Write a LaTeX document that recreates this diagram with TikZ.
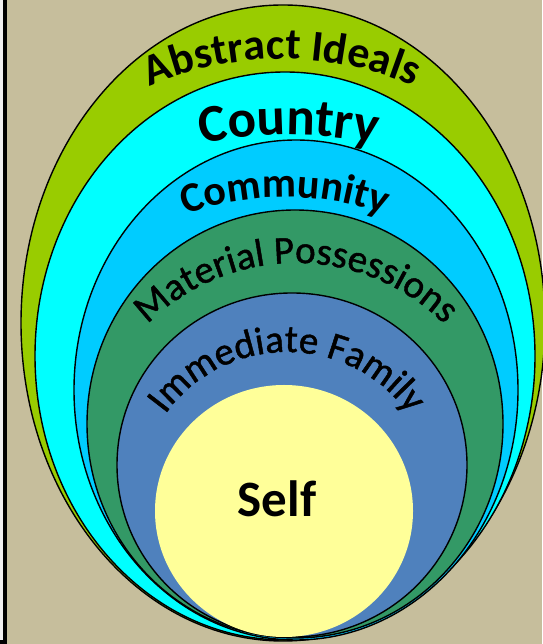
\documentclass[tikz,border=0pt]{standalone}
\usepackage{fontspec}
\setmainfont{Carlito}
\newfontfamily\medfont{Carlito}[FakeBold=1.2]
\usetikzlibrary{decorations.text}
\definecolor{bgtan}{HTML}{C6BE9C}
\definecolor{ideals}{HTML}{99CC00}
\definecolor{country}{HTML}{00FFFF}
\definecolor{community}{HTML}{00CCFF}
\definecolor{possess}{HTML}{339966}
\definecolor{family}{HTML}{4F81BD}
\definecolor{selfyel}{HTML}{FFFF99}
\begin{document}
\begin{tikzpicture}[x=1pt,y=1pt,ring/.style={draw=black,line width=1.4pt}]
  \useasboundingbox (0,0) rectangle (542,644);
  \fill[bgtan] (0,0) rectangle (542,644);
  \fill[black!6] (0,4) rectangle (3,644);
  \draw[line width=3.5pt] (5,644)--(5,2.2)--(0,2.2);
  % nested ellipses, outer to inner
  \filldraw[ring,fill=ideals] (283,321) ellipse[x radius=262,y radius=318];
  \filldraw[ring,fill=country] (285,288) ellipse[x radius=250,y radius=284];
  \filldraw[ring,fill=community] (296,254) ellipse[x radius=222,y radius=250];
  \filldraw[ring,fill=possess] (295,220) ellipse[x radius=208,y radius=214];
  \filldraw[ring,fill=family] (292,179) ellipse[x radius=175,y radius=172];
  \fill[selfyel] (284,133) ellipse[x radius=129,y radius=126];
  % curved labels
  \path[decorate,decoration={text along path,text align=center,
    text={|\bfseries\fontsize{44}{44}\selectfont|Abstract Ideals}}]
    (282,257) ++(140:328) arc[start angle=140,end angle=40,radius=328];
  \path[decorate,decoration={text along path,text align=center,
    text={|\bfseries\fontsize{53}{53}\selectfont|Country}}]
    (289,59) ++(120:450) arc[start angle=120,end angle=60,radius=450];
  \path[decorate,decoration={text along path,text align=center,
    text={|\bfseries\fontsize{42}{42}\selectfont|Community}}]
    (285,157) ++(140:290) arc[start angle=140,end angle=40,radius=290];
  \path[decorate,decoration={text along path,text align=center,
    text={|\medfont\fontsize{39}{39}\selectfont|Material Possessions}}]
    (296,171) ++(165:210) arc[start angle=165,end angle=15,radius=210];
  \path[decorate,decoration={text along path,text align=center,
    text={|\medfont\fontsize{39}{39}\selectfont|Immediate Family}}]
    (287,142) ++(175:150) arc[start angle=175,end angle=5,radius=150];
  \node[anchor=base,font=\bfseries\fontsize{51}{51}\selectfont] (self) at (277,127) {Self};
\end{tikzpicture}
\end{document}
